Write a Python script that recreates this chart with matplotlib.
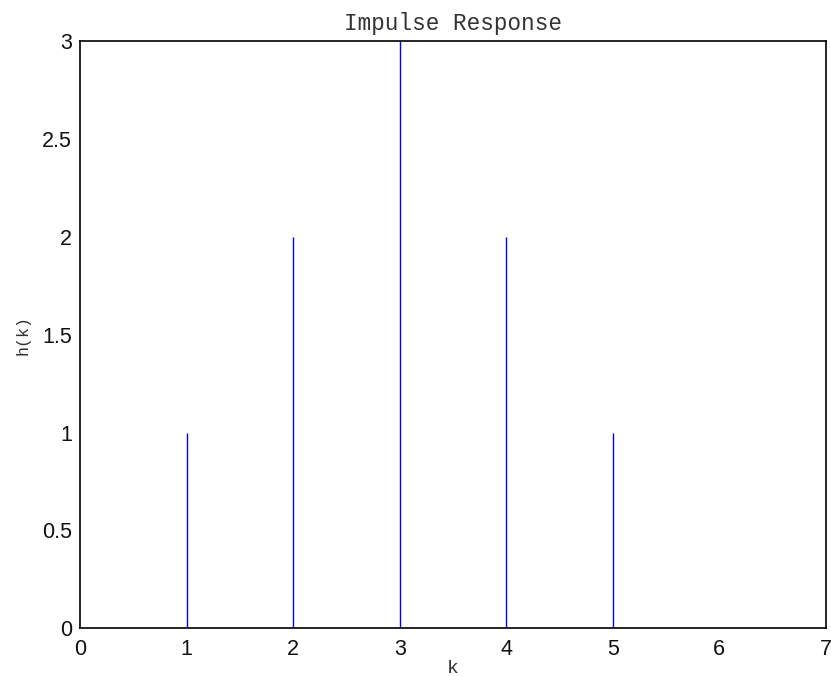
import matplotlib
matplotlib.use("Agg")
import matplotlib.pyplot as plt

# Impulse response samples h(k)
k = [1, 2, 3, 4, 5]
h = [1, 2, 3, 2, 1]

x_ticks = [0, 1, 2, 3, 4, 5, 6, 7]
y_ticks = [0, 0.5, 1, 1.5, 2, 2.5, 3]
y_tick_labels = ["0", "0.5", "1", "1.5", "2", "2.5", "3"]

fig = plt.figure(figsize=(8.31, 6.77), dpi=100)
ax = fig.add_axes([0.0966, 0.0719, 0.8970, 0.8671])

ax.vlines(k, 0, h, colors="#0000ff", linewidth=1.0)

ax.set_xlim(0, 7)
ax.set_ylim(0, 3)
ax.set_xticks(x_ticks)
ax.set_xticklabels([str(t) for t in x_ticks])
ax.set_yticks(y_ticks)
ax.set_yticklabels(y_tick_labels)

for lbl in ax.get_xticklabels() + ax.get_yticklabels():
    lbl.set_fontfamily("Liberation Sans")
    lbl.set_fontsize(15.5)
    lbl.set_color("#111111")

ax.tick_params(axis="both", length=0)
ax.tick_params(axis="x", pad=8)
ax.tick_params(axis="y", pad=6)

for sp in ax.spines.values():
    sp.set_linewidth(1.2)
    sp.set_color("black")

mono = "Liberation Mono"
ax.set_title("Impulse Response", fontfamily=mono, fontsize=16.3, pad=8,
             color="#333333")
ax.set_xlabel("k", fontfamily=mono, fontsize=14, labelpad=0, color="#333333")
ax.set_ylabel("h(k)", fontfamily=mono, fontsize=12, labelpad=8, color="#333333")

fig.savefig("out.png", dpi=100)
